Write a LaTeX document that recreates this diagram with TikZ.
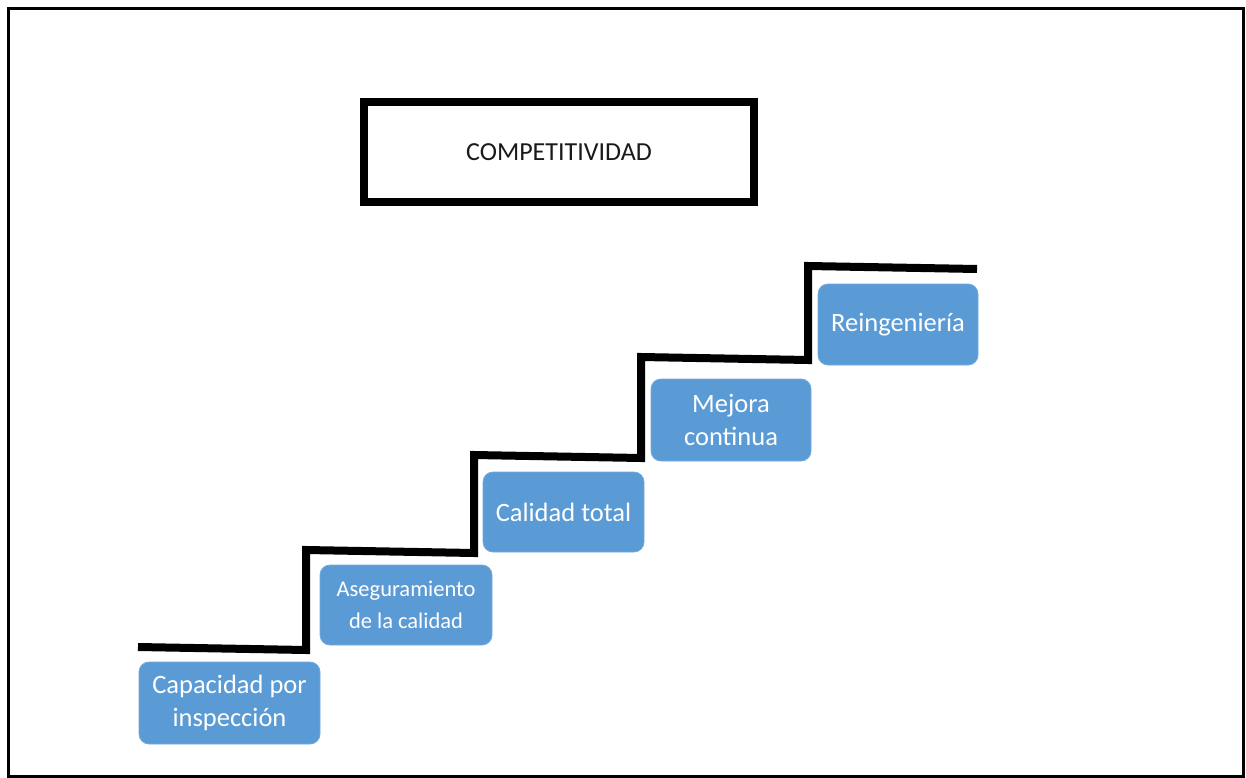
\documentclass[tikz,border=0pt]{standalone}
\usepackage{fontspec}
\setmainfont{Carlito}
\definecolor{stepblue}{HTML}{5B9BD5}
\definecolor{titleink}{HTML}{1A1A1A}
\begin{document}
\begin{tikzpicture}[x=1pt,y=-1pt,
  stagebox/.style={rectangle, rounded corners=10pt, fill=stepblue, draw=stepblue!85!white,
    line width=0.8pt, text=white, align=center, inner sep=0pt,
    font=\fontsize{26.5}{33}\selectfont},
  titlebox/.style={rectangle, draw=black, line width=8pt, inner sep=0pt,
    text=titleink, font=\fontsize{26}{30}\selectfont},
  stair/.style={line width=8pt, line join=miter, line cap=butt}]
  \useasboundingbox (0,0) rectangle (1246,778);
  % frame
  \draw[line width=3pt] (8.5,8.5) rectangle (1243,776);

  % title
  \node[titlebox, minimum width=390pt, minimum height=99pt] (title) at (559,152) {COMPETITIVIDAD};

  % staircase outline
  \coordinate (s0) at (138,647);
  \coordinate (s1) at (306,650);
  \coordinate (s2) at (306,550);
  \coordinate (s3) at (474,553);
  \coordinate (s4) at (474,455);
  \coordinate (s5) at (641,458);
  \coordinate (s6) at (641,357);
  \coordinate (s7) at (808,360);
  \coordinate (s8) at (808,266);
  \coordinate (s9) at (977,269);
  \draw[stair] (s0) -- (s1) -- (s2) -- (s3) -- (s4) -- (s5) -- (s6) -- (s7) -- (s8) -- (s9);

  % stages
  \node[stagebox, minimum width=181pt, minimum height=82pt] (b1) at (229.5,703) {Capacidad por\\inspección};
  \node[stagebox, minimum width=172pt, minimum height=80pt, font=\fontsize{22.5}{32}\selectfont] (b2) at (406,605) {Aseguramiento\\de la calidad};
  \node[stagebox, minimum width=161pt, minimum height=80pt] (b3) at (563.5,512) {Calidad total};
  \node[stagebox, minimum width=160pt, minimum height=82pt] (b4) at (731,420) {Mejora\\continua};
  \node[stagebox, minimum width=160pt, minimum height=81pt] (b5) at (898,324.5) {Reingeniería};
\end{tikzpicture}
\end{document}
